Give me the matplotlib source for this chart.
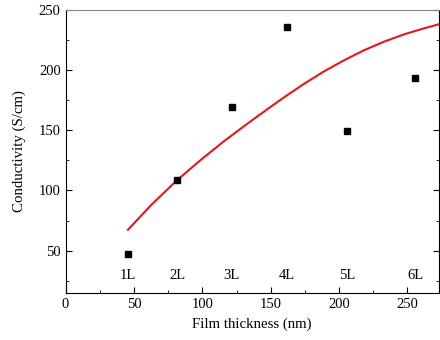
import matplotlib
matplotlib.use('Agg')
from matplotlib import pyplot as plt
from matplotlib.ticker import MultipleLocator

plt.rcParams['font.family'] = ['Liberation Serif', 'DejaVu Serif']

# measured conductivity of each film
thickness = [45.9, 81.6, 121.4, 161.8, 206.0, 255.5]
conductivity = [47.5, 108.3, 168.9, 236.1, 149.2, 193.3]
layers = ['1L', '2L', '3L', '4L', '5L', '6L']

# fitted trend line
fit_x = [45.6, 62.7, 81.3, 99.1, 116.1, 133.1, 147.7, 159.8, 174.4,
         189.0, 203.6, 218.1, 232.7, 247.3, 261.9, 272.8]
fit_y = [67.3, 88.0, 108.3, 125.6, 141.1, 155.6, 167.6, 177.4, 188.6,
         198.9, 208.1, 216.4, 223.5, 229.6, 234.6, 238.0]

fig = plt.figure(figsize=(4.4, 3.4), dpi=100)
ax = fig.add_axes([0.149, 0.139, 0.848, 0.832])

ax.plot(fit_x, fit_y, color='#e8161b', lw=1.5, zorder=2, solid_joinstyle='round')
ax.plot(thickness, conductivity, 'ks', ms=4.3, zorder=3)

for xv, lab in zip(thickness, layers):
    ax.text(xv, 29, lab, ha='center', va='center', fontsize=10.5)

ax.set_xlim(0, 272.8)
ax.set_ylim(15, 250)
ax.xaxis.set_major_locator(MultipleLocator(50))
ax.xaxis.set_minor_locator(MultipleLocator(25))
ax.yaxis.set_major_locator(MultipleLocator(50))
ax.yaxis.set_minor_locator(MultipleLocator(25))
ax.tick_params(which='both', direction='in', right=True, top=False, labelsize=10.5)
ax.tick_params(which='major', length=4)
ax.tick_params(which='minor', length=2)
ax.spines['top'].set_color('#888888')

ax.set_xlabel('Film thickness (nm)', fontsize=10.7, labelpad=5)
ax.set_ylabel('Conductivity (S/cm)', fontsize=10.7, labelpad=9)

plt.savefig('out.png', dpi=100)
